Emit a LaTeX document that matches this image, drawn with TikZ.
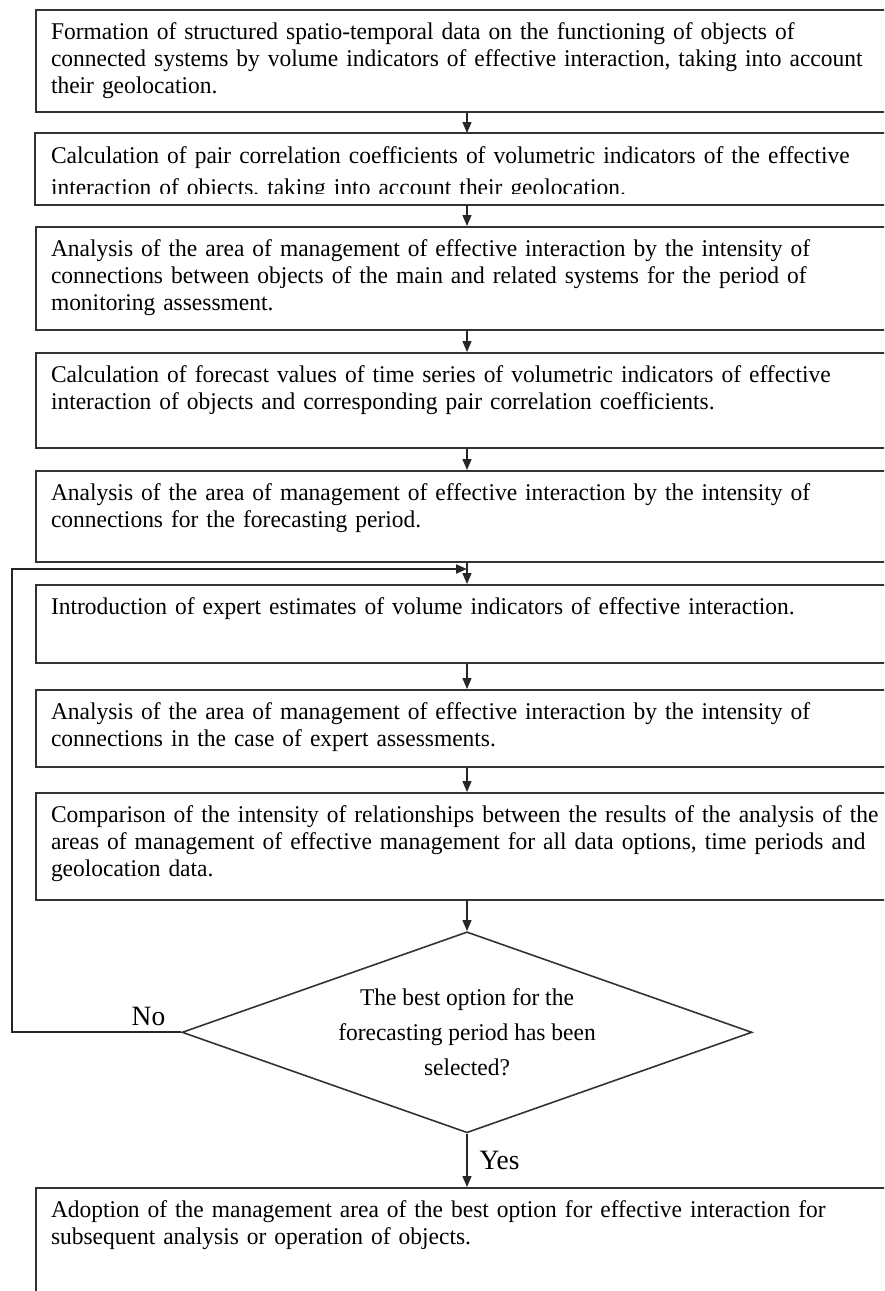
\documentclass[tikz,border=0pt]{standalone}
\usepackage{fontspec}
\setmainfont[FakeStretch=0.978]{Liberation Serif}
\usetikzlibrary{positioning, arrows.meta, shapes.geometric}

\begin{document}
\begin{tikzpicture}[
    x=0.5pt, y=-0.5pt, % one unit is one pixel of the page
    node distance=10.5pt, % gap between the boxes
    stage/.style={draw=black!80, line width=1pt, anchor=north west, align=left,
      text width=425pt, inner xsep=7.5pt, inner ysep=0pt, text height=14.5pt,
      font=\fontsize{12pt}{13.5pt}\selectfont}, % Style for process boxes
    check/.style={draw=black!80, line width=0.8pt, diamond, aspect=2.84, inner sep=0pt,
      minimum width=285pt, minimum height=100.5pt, align=center,
      font=\fontsize{12pt}{17.5pt}\selectfont}, % Style for the decision
    flow/.style={draw=black!85, line width=0.7pt, -{Triangle[length=5.5pt,width=4.5pt]}},
    tag/.style={font=\fontsize{14pt}{16pt}\selectfont, inner sep=0pt} % Style for branch labels
  ]
    \clip (0,0) rectangle (884,1291);
    \coordinate (axis) at (467,0);
    \coordinate (join) at (467,569);

    % Define nodes
    \node (s1) [stage, text depth=36.5pt] at (35,9)
      {Formation of structured spatio-temporal data on the functioning of objects of\\
       connected systems by volume indicators of effective interaction, taking into account\\
       their geolocation.};
    \begin{scope}
      \clip (0,0) rectangle (884,193);
      \node (s2) [below=10pt of s1.south west, stage, draw=none, text depth=20.5pt]
        {Calculation of pair correlation coefficients of volumetric indicators of the effective\\[2.5pt]
         interaction of objects, taking into account their geolocation.};
    \end{scope}
    \draw[black!80, line width=1pt] (s2.north west) rectangle (s2.south east);
    \node (s3) [below=of s2.south west, stage, text depth=37pt]
      {Analysis of the area of management of effective interaction by the intensity of\\
       connections between objects of the main and related systems for the period of\\
       monitoring assessment.};
    \node (s4) [below=of s3.south west, stage, text depth=33pt]
      {Calculation of forecast values of time series of volumetric indicators of effective\\
       interaction of objects and corresponding pair correlation coefficients.};
    \node (s5) [below=of s4.south west, stage, text depth=31pt]
      {Analysis of the area of management of effective interaction by the intensity of\\
       connections for the forecasting period.};
    \node (s6) [below=of s5.south west, stage, text depth=24.5pt]
      {Introduction of expert estimates of volume indicators of effective interaction.};
    \node (s7) [below=12.5pt of s6.south west, stage, text depth=24pt]
      {Analysis of the area of management of effective interaction by the intensity of\\
       connections in the case of expert assessments.};
    \node (s8) [below=12pt of s7.south west, stage, text depth=39pt]
      {Comparison of the intensity of relationships between the results of the analysis of the\\
       areas of management of effective management for all data options, time periods and\\
       geolocation data.};
    \node (dec) [check, anchor=north, yshift=-15pt] at (s8.south -| axis)
      {The best option for the\\ forecasting period has been\\ selected?};
    \node (s9) [stage, text depth=60pt] at (35,1187)
      {Adoption of the management area of the best option for effective interaction for\\
       subsequent analysis or operation of objects.};

    % Draw arrows
    \foreach \a/\b in {s1/s2, s2/s3, s3/s4, s4/s5, s5/s6, s6/s7, s7/s8}
      \draw[flow] (\a.south -| axis) -- (\b.north -| axis);
    \draw[flow] (s8.south -| axis) -- (dec.north);
    \draw[flow] (dec.south) -- node[right=6pt, tag] {Yes} (s9.north -| axis);
    \draw[flow, line width=1pt] (dec.west)
      -- node[pos=0, anchor=south east, xshift=-7.5pt, yshift=3pt, tag] {No} ++(-169,0)
      |- (join); % back to the expert step
\end{tikzpicture}
\end{document}
